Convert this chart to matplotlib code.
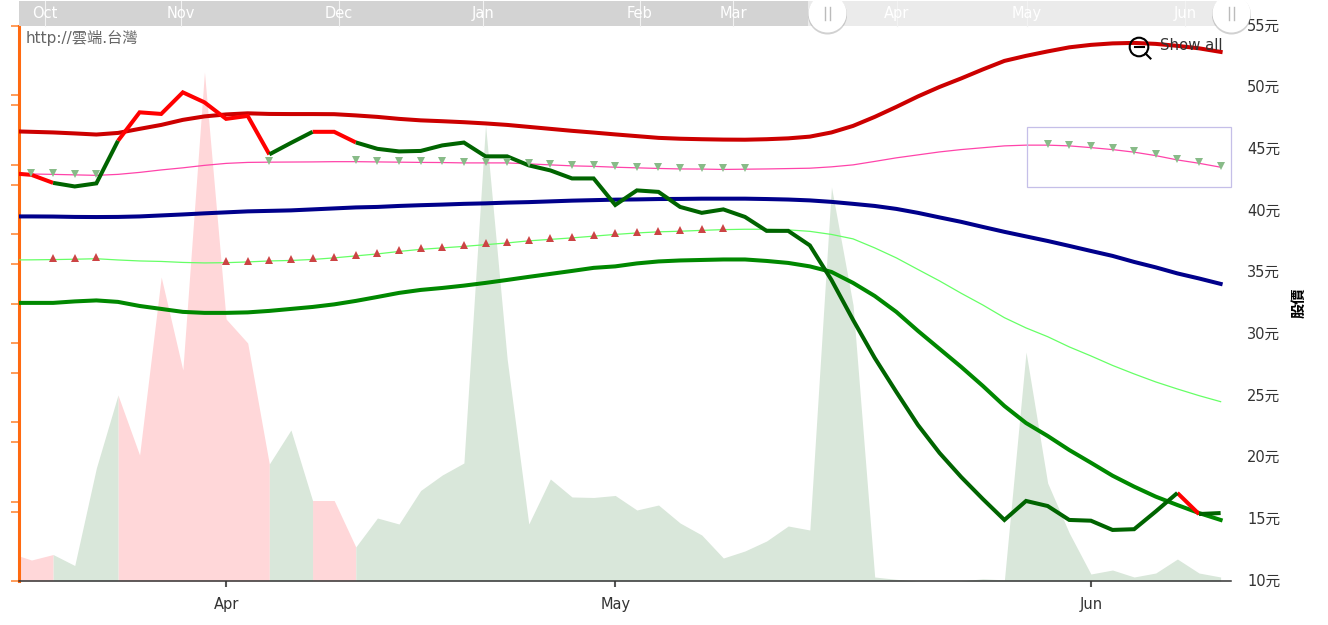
import matplotlib
matplotlib.use("Agg")
import matplotlib.pyplot as plt
from matplotlib.patches import Circle, Rectangle
import numpy as np

plt.rcParams['font.family'] = ['DejaVu Sans', 'Noto Sans CJK TC']

# trading day index, -1 falls just left of the plot
days = np.arange(-1, 56)

ma_long = [46.47, 46.42, 46.37, 46.29, 46.2, 46.33, 46.66, 46.98, 47.39, 47.67, 47.83, 47.92, 47.87, 47.86, 47.86,
           47.85, 47.75, 47.63, 47.47, 47.35, 47.28, 47.2, 47.1, 46.98, 46.82, 46.66, 46.5, 46.36, 46.21, 46.07,
           45.93, 45.86, 45.82, 45.79, 45.78, 45.82, 45.89, 46.03, 46.37, 46.9, 47.63, 48.44, 49.29, 50.06, 50.75,
           51.48, 52.17, 52.58, 52.94, 53.27, 53.47, 53.59, 53.63, 53.55, 53.39, 53.19, 52.9]
ma_upper = [43.01, 43.0, 42.97, 42.93, 42.89, 42.97, 43.13, 43.33, 43.5, 43.7, 43.86, 43.94, 43.96, 43.97, 43.98,
            44.0, 44.0, 43.98, 43.96, 43.94, 43.93, 43.9, 43.9, 43.9, 43.82, 43.74, 43.66, 43.62, 43.55, 43.5,
            43.45, 43.41, 43.4, 43.37, 43.39, 43.41, 43.44, 43.47, 43.58, 43.74, 44.02, 44.31, 44.55, 44.79, 44.98,
            45.13, 45.28, 45.34, 45.34, 45.28, 45.14, 44.98, 44.77, 44.49, 44.14, 43.87, 43.55]
ma_mid = [39.56, 39.56, 39.55, 39.52, 39.51, 39.52, 39.56, 39.64, 39.72, 39.81, 39.89, 39.97, 40.01, 40.05, 40.13,
          40.21, 40.29, 40.33, 40.41, 40.47, 40.52, 40.58, 40.62, 40.68, 40.72, 40.78, 40.84, 40.88, 40.92, 40.94,
          40.97, 40.98, 41.0, 41.0, 41.0, 40.97, 40.93, 40.86, 40.74, 40.58, 40.41, 40.17, 39.85, 39.48, 39.12,
          38.71, 38.31, 37.94, 37.57, 37.17, 36.76, 36.36, 35.87, 35.43, 34.94, 34.53, 34.09]
ma_lower = [36.03, 36.04, 36.06, 36.09, 36.13, 36.03, 35.95, 35.91, 35.83, 35.79, 35.81, 35.87, 35.95, 35.99, 36.07,
            36.2, 36.36, 36.52, 36.72, 36.89, 37.01, 37.13, 37.27, 37.41, 37.58, 37.7, 37.82, 37.96, 38.1, 38.22,
            38.31, 38.36, 38.43, 38.49, 38.52, 38.52, 38.47, 38.35, 38.1, 37.74, 37.01, 36.2, 35.26, 34.33, 33.33,
            32.38, 31.35, 30.52, 29.81, 28.98, 28.25, 27.48, 26.79, 26.14, 25.57, 25.03, 24.54]
ma_short = [32.55, 32.55, 32.55, 32.67, 32.75, 32.63, 32.3, 32.06, 31.82, 31.74, 31.74, 31.78, 31.9, 32.06, 32.22,
            32.43, 32.71, 33.03, 33.36, 33.6, 33.76, 33.95, 34.17, 34.41, 34.66, 34.9, 35.14, 35.39, 35.51, 35.75,
            35.91, 35.99, 36.03, 36.07, 36.07, 35.95, 35.79, 35.51, 35.06, 34.17, 33.11, 31.82, 30.28, 28.82, 27.36,
            25.82, 24.19, 22.81, 21.76, 20.62, 19.59, 18.54, 17.65, 16.84, 16.16, 15.51, 14.95]
price = [43.07, 42.93, 42.28, 41.99, 42.24, 45.69, 48.0, 47.87, 49.62, 48.81, 47.47, 47.71, 44.59, 45.52, 46.42,
         46.42, 45.56, 45.04, 44.83, 44.87, 45.32, 45.55, 44.43, 44.43, 43.7, 43.29, 42.64, 42.64, 40.49, 41.67,
         41.55, 40.33, 39.85, 40.13, 39.52, 38.39, 38.39, 37.21, 34.41, 31.17, 28.09, 25.33, 22.65, 20.38, 18.43,
         16.65, 14.95, 16.49, 16.08, 14.95, 14.89, 14.14, 14.2, 15.64, 17.14, 15.43, 15.51]
volume = [5.05, 3.78, 4.77, 2.79, 20.36, 33.51, 22.7, 54.77, 38.02, 91.71, 47.21, 42.88, 21.08, 27.21, 14.5,
          14.5, 6.13, 11.35, 10.27, 16.31, 19.1, 21.26, 82.16, 40.0, 10.27, 18.38, 15.14, 15.05, 15.41, 12.79,
          13.69, 10.45, 8.29, 4.14, 5.41, 7.21, 9.91, 9.19, 70.99, 49.73, 0.72, 0.3, 0, 0, 0,
          0.4, 0.2, 41.26, 17.66, 8.65, 1.26, 1.98, 0.72, 1.44, 3.96, 1.44, 0.72]

price_up_spans = [(-1, 1), (4, 11), (13, 15), (53, 54)]
price_down_spans = [(1, 4), (11, 13), (15, 53), (54, 55)]
vol_up_spans = [(-1, 1), (4, 11), (13, 15)]
vol_down_spans = [(1, 4), (11, 13), (15, 55)]

sell_days = [0, 1, 2, 3, 11] + list(range(15, 34)) + list(range(47, 56))
buy_days = [1, 2, 3] + list(range(9, 33))

price_ticks = list(range(10, 60, 5))
vol_ticks = [0, 12.5, 14.29, 25, 28.57, 37.5, 42.86, 50, 57.14, 62.5, 71.43, 75, 85.71, 87.5, 100]
month_ticks = [9, 27, 49]
month_labels = ['Apr', 'May', 'Jun']
nav_labels = ['Oct', 'Nov', 'Dec', 'Jan', 'Feb', 'Mar', 'Apr', 'May', 'Jun']
nav_x = [45, 181, 339, 483, 640, 733, 897, 1027, 1185]

fig = plt.figure(figsize=(13.28, 6.25), dpi=100)
ax_vol = fig.add_axes([19 / 1328, 44 / 625, 1212 / 1328, 555 / 625])
ax = ax_vol.twinx()
ax.patch.set_visible(False)

xlim = (-0.578, 55.48)

# volume
days_list = list(days)
for spans, col in ((vol_up_spans, '#ffd7d9'), (vol_down_spans, '#d9e7da')):
    for a, b in spans:
        i, j = days_list.index(a), days_list.index(b) + 1
        ax_vol.fill_between(days[i:j], volume[i:j], 0, color=col, lw=0)

ax_vol.set_xlim(xlim)
ax_vol.set_ylim(0, 100)
ax_vol.set_yticks(vol_ticks)
ax_vol.set_yticklabels([])
ax_vol.tick_params(axis='y', left=True, length=6, width=1.2, color='#ff8a3c')
ax_vol.set_xticks(month_ticks)
ax_vol.set_xticklabels(month_labels, fontsize=10.5, color='#333333')
ax_vol.tick_params(axis='x', length=4, width=1.5, color='#555555', pad=7.2)
for side in ('top', 'right'):
    ax_vol.spines[side].set_visible(False)
ax_vol.spines['left'].set_color('#ff6a10')
ax_vol.spines['left'].set_linewidth(2.2)
ax_vol.spines['bottom'].set_color('#333333')
ax_vol.spines['bottom'].set_linewidth(1.1)

# moving averages
ax.plot(days, ma_short, color='#008800', lw=2.9)
ax.plot(days, ma_lower, color='#66ff66', lw=0.9)
ax.plot(days, ma_mid, color='#00008b', lw=2.9)
ax.plot(days, ma_upper, color='#ff44aa', lw=0.9)
ax.plot(days, ma_long, color='#cc0000', lw=2.9)

# price, split by trend
for spans, col in ((price_up_spans, '#ff0000'), (price_down_spans, '#006400')):
    for a, b in spans:
        i, j = days_list.index(a), days_list.index(b) + 1
        ax.plot(days[i:j], price[i:j], color=col, lw=2.9, solid_capstyle='butt', solid_joinstyle='miter')

sell_y = [ma_upper[days_list.index(d)] + 0.1 for d in sell_days]
buy_y = [ma_lower[days_list.index(d)] + 0.1 for d in buy_days]
ax.plot(sell_days, sell_y, 'v', color='#88bb88', ms=5.5, mew=0)
ax.plot(buy_days, buy_y, '^', color='#cc4444', ms=5.5, mew=0)

ax.set_xlim(xlim)
ax.set_ylim(10, 55)
ax.set_yticks(price_ticks)
ax.set_yticklabels([f'{v}元' for v in price_ticks], fontsize=10.5, color='#333333', va='center')
ax.tick_params(axis='y', length=0, pad=11.5)
for side in ('top', 'left', 'right', 'bottom'):
    ax.spines[side].set_visible(False)

# navigator and other overlays, in pixels
over = fig.add_axes([0, 0, 1, 1])
over.set_xlim(0, 1328)
over.set_ylim(625, 0)
over.axis('off')
over.patch.set_visible(False)

over.add_patch(Rectangle((19, 1), 789, 25, color='#d3d3d3', lw=0))
over.add_patch(Rectangle((808, 1), 423, 25, color='#ebebeb', lw=0))
for label, x in zip(nav_labels, nav_x):
    over.plot([x, x], [1, 26], color='#f2f2f2', lw=0.8)
    over.text(x, 18, label, color='white', fontsize=10.5, ha='center', va='baseline')

for cx in (827.5, 1231.5):
    over.add_patch(Circle((cx, 15), 19.5, color='#999999', alpha=0.45, lw=0))
    over.add_patch(Circle((cx, 13.5), 19, color='white', lw=0))
    over.plot([cx - 2.5, cx - 2.5], [7, 20], color='#bbbbbb', lw=1)
    over.plot([cx + 2.5, cx + 2.5], [7, 20], color='#bbbbbb', lw=1)

over.text(26, 38.5, 'http://雲端.台灣', color='#666666', fontsize=11, va='center')

over.add_patch(Rectangle((1027.3, 126.5), 203.4, 60.7, fc='none', ec='#c5bfe8', lw=0.9))

# show all button
over.add_patch(Circle((1139, 47), 9.3, fc='none', ec='black', lw=1.5))
over.plot([1134.5, 1143.5], [47, 47], color='black', lw=1.5)
over.plot([1145.5, 1150.5], [53.5, 58.5], color='black', lw=1.5)
over.text(1160, 46, 'Show all', color='#333333', fontsize=10.7, va='center')

over.text(1298.5, 303, '股價', rotation=90, fontsize=11, fontweight='bold', color='black',
          ha='center', va='center')

fig.savefig('out.png', dpi=100)
